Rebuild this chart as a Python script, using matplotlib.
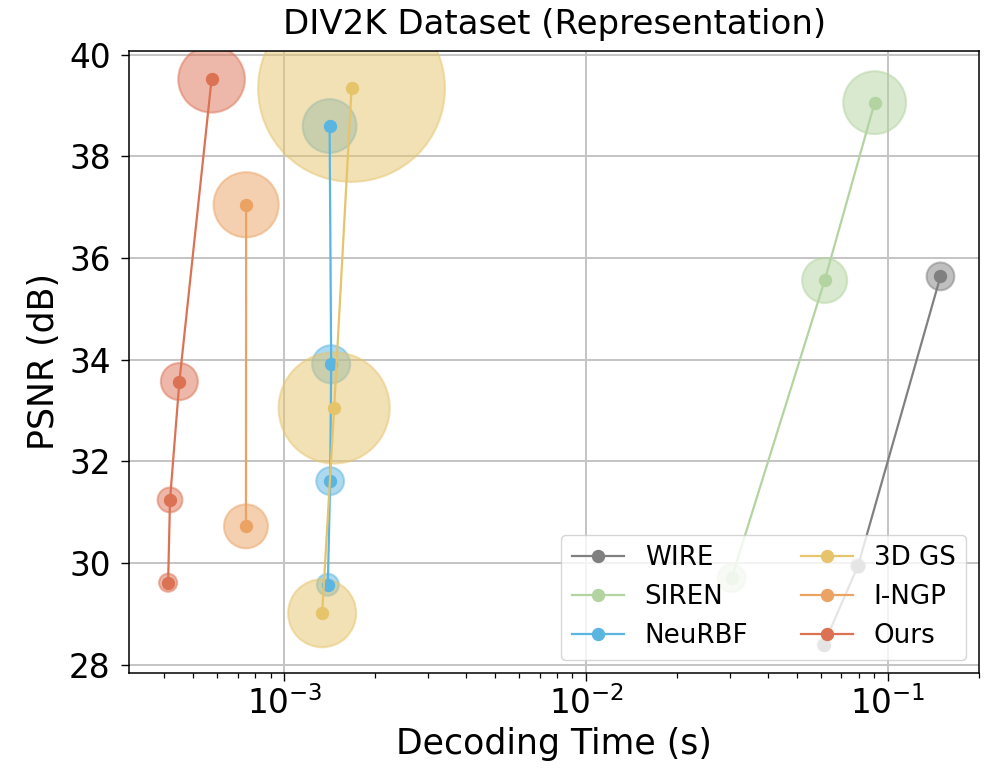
import matplotlib
matplotlib.use("Agg")
import matplotlib.pyplot as plt

# ---------------- data ----------------
methods = ["WIRE", "SIREN", "NeuRBF", "3D GS", "I-NGP", "Ours"]

wire_time = [0.149, 0.0794, 0.0611]
wire_psnr = [35.64, 29.94, 28.39]
wire_bubble = [400, 100, 75]

siren_time = [0.0902, 0.0616, 0.0303]
siren_psnr = [39.06, 35.56, 29.70]
siren_bubble = [2050, 1050, 400]

neurbf_time = [1.412e-3, 1.429e-3, 1.418e-3, 1.393e-3]
neurbf_psnr = [38.60, 33.91, 31.61, 29.57]
neurbf_bubble = [1500, 750, 400, 250]

gs_time = [1.669e-3, 1.462e-3, 1.334e-3]
gs_psnr = [39.34, 33.05, 29.01]
gs_bubble = [18100, 6400, 2400]

ingp_time = [7.47e-4, 7.46e-4]
ingp_psnr = [37.05, 30.72]
ingp_bubble = [2200, 1000]

ours_time = [5.74e-4, 4.49e-4, 4.18e-4, 4.12e-4]
ours_psnr = [39.52, 33.57, 31.24, 29.61]
ours_bubble = [2300, 710, 320, 170]

colors = ["#808080", "#B3D4A0", "#5BB5E1", "#E6C46C", "#EBA364", "#DC7254"]

series = [
    (wire_time, wire_psnr, wire_bubble),
    (siren_time, siren_psnr, siren_bubble),
    (neurbf_time, neurbf_psnr, neurbf_bubble),
    (gs_time, gs_psnr, gs_bubble),
    (ingp_time, ingp_psnr, ingp_bubble),
    (ours_time, ours_psnr, ours_bubble),
]

# ---------------- figure ----------------
fig = plt.figure(figsize=(9.84, 7.68), dpi=100)
ax = fig.add_axes([0.1316, 0.1237, 0.995 - 0.1316, 0.9336 - 0.1237])

for name, c, (t, p, b) in zip(methods, colors, series):
    ax.scatter(t, p, s=b, color=c, alpha=0.5, edgecolors=c, linewidths=1.5, zorder=2)
    ax.plot(t, p, "-o", color=c, lw=1.6, markersize=8.6, label=name, zorder=3)

ax.set_xscale("log")
ax.grid(True, which="major", color="#C4C4C4", linewidth=1.4, zorder=0)
ax.set_axisbelow(True)

ax.set_yticks([28, 30, 32, 34, 36, 38, 40])
ax.tick_params(axis="both", which="major", labelsize=23.5, length=5.5, width=1.0, pad=8)
ax.tick_params(axis="x", which="major", pad=4)
ax.tick_params(axis="x", which="minor", length=3.5, width=0.9)

for sp in ax.spines.values():
    sp.set_linewidth(1.1)
    sp.set_color("black")

ax.set_title("DIV2K Dataset (Representation)", fontsize=24.5, pad=12)
ax.set_xlabel("Decoding Time (s)", fontsize=25, labelpad=4)
ax.set_ylabel("PSNR (dB)", fontsize=25, labelpad=6)

ax.legend(loc="lower right", ncol=2, fontsize=18.8)

fig.savefig("out.png", dpi=100)
